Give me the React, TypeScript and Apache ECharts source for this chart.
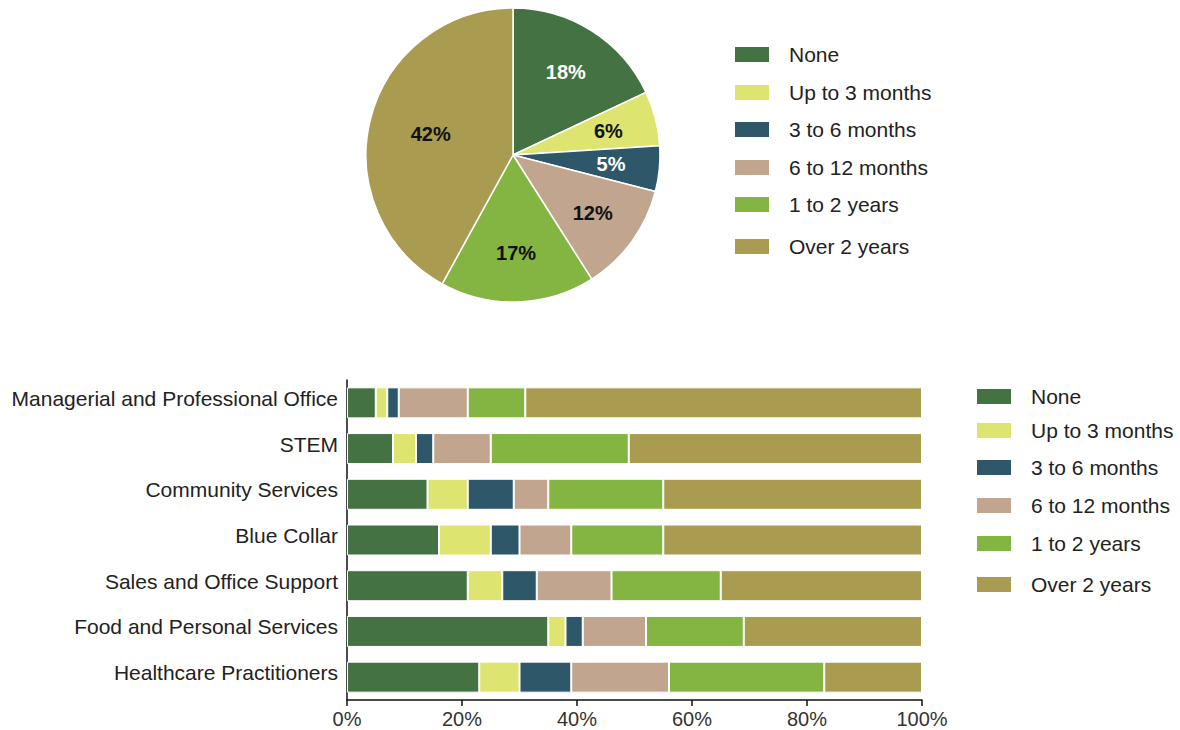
import React, { useEffect, useRef } from "react";
import * as echarts from "echarts";

const durations = [
  "None",
  "Up to 3 months",
  "3 to 6 months",
  "6 to 12 months",
  "1 to 2 years",
  "Over 2 years",
];
const overallShare = [18, 6, 5, 12, 17, 42];

const occupations = [
  "Managerial and Professional Office",
  "STEM",
  "Community Services",
  "Blue Collar",
  "Sales and Office Support",
  "Food and Personal Services",
  "Healthcare Practitioners",
];
const noneShare = [5, 8, 14, 16, 21, 35, 23];
const upTo3Share = [2, 4, 7, 9, 6, 3, 7];
const m3to6Share = [2, 3, 8, 5, 6, 3, 9];
const m6to12Share = [12, 10, 6, 9, 13, 11, 17];
const y1to2Share = [10, 24, 20, 16, 19, 17, 27];
const over2Share = [69, 51, 45, 45, 35, 31, 17];
const xTickValues = [0, 20, 40, 60, 80, 100];

const barSeriesValues = [noneShare, upTo3Share, m3to6Share, m6to12Share, y1to2Share, over2Share];

const COLORS = ["#457242", "#dde46f", "#2e586a", "#c1a58e", "#84b542", "#a99b50"];
const PIE_LABEL_COLORS = ["#ffffff", "#111111", "#ffffff", "#111111", "#111111", "#111111"];
const FONT = "'Liberation Sans', Arial, sans-serif";

const pieLegendLeft = 733;
const pieLegendCenters = [55, 93, 130, 168, 205, 247];
const barLegendLeft = 975;
const barLegendCenters = [397, 431, 468, 506, 544, 585];

function makeLegends(left: number, centers: number[]) {
  return durations.map((name, i) => ({
    data: [{ name, itemStyle: { color: COLORS[i] } }],
    left,
    top: centers[i] - 11,
    padding: 0,
    icon: "rect",
    itemWidth: 36,
    itemHeight: 17,
    selectedMode: false,
    textStyle: {
      fontSize: 21,
      color: "#222",
      fontFamily: FONT,
      padding: [0, 0, 0, 14],
    },
  }));
}

export default function App() {
  const ref = useRef<HTMLDivElement>(null);

  useEffect(() => {
    if (!ref.current) return;
    const chart = echarts.init(ref.current, undefined, { renderer: "svg" });

    const pieData = durations.map((name, i) => ({
      name,
      value: overallShare[i],
      itemStyle: { color: COLORS[i] },
    }));

    const labelPie = (inner: number, showIdx: (i: number) => boolean) => ({
      type: "pie",
      center: [513, 155],
      radius: [inner, 147],
      startAngle: 90,
      clockwise: true,
      silent: true,
      z: 5,
      labelLine: { show: false },
      data: durations.map((name, i) => ({
        name,
        value: overallShare[i],
        itemStyle: { color: "rgba(0,0,0,0)", borderWidth: 0 },
        label: {
          show: showIdx(i),
          position: "inside",
          formatter: "{c}%",
          color: PIE_LABEL_COLORS[i],
          fontSize: 20,
          fontWeight: "bold",
          fontFamily: FONT,
        },
      })),
    });

    const maxShare = Math.max(...overallShare);

    const option: any = {
      animation: false,
      backgroundColor: "#ffffff",
      legend: [...makeLegends(pieLegendLeft, pieLegendCenters), ...makeLegends(barLegendLeft, barLegendCenters)],
      grid: { left: 347, width: 575, top: 380, height: 320, containLabel: false },
      xAxis: {
        type: "value",
        min: xTickValues[0],
        max: xTickValues[xTickValues.length - 1],
        interval: xTickValues[1] - xTickValues[0],
        splitLine: { show: false },
        axisLine: { show: true, lineStyle: { color: "#111", width: 1.5 } },
        axisTick: { show: true, length: 6, lineStyle: { color: "#111", width: 1.5 } },
        axisLabel: {
          formatter: "{value}%",
          fontSize: 20,
          color: "#333",
          fontFamily: FONT,
          margin: 9,
        },
      },
      yAxis: {
        type: "category",
        data: occupations,
        inverse: true,
        axisLine: { show: true, lineStyle: { color: "#111", width: 1.5 } },
        axisTick: { show: false },
        axisLabel: {
          fontSize: 21,
          color: "#222",
          fontFamily: FONT,
          margin: 9,
          verticalAlign: "bottom",
          lineHeight: 9,
        },
      },
      series: [
        {
          type: "pie",
          center: [513, 155],
          radius: [0, 147],
          startAngle: 90,
          clockwise: true,
          label: { show: false },
          labelLine: { show: false },
          itemStyle: { borderColor: "#ffffff", borderWidth: 1.5 },
          data: pieData,
        },
        labelPie(44, (i) => overallShare[i] !== maxShare),
        labelPie(17, (i) => overallShare[i] === maxShare),
        ...durations.map((name, i) => ({
          type: "bar",
          name,
          stack: "total",
          barWidth: 31,
          itemStyle: { color: COLORS[i], borderColor: "#ffffff", borderWidth: 1 },
          data: barSeriesValues[i],
        })),
      ],
    };

    chart.setOption(option);
    return () => chart.dispose();
  }, []);

  return (
    <div
      ref={ref}
      style={{ position: "fixed", left: 0, top: 0, width: 1180, height: 730, background: "#fff" }}
    />
  );
}
